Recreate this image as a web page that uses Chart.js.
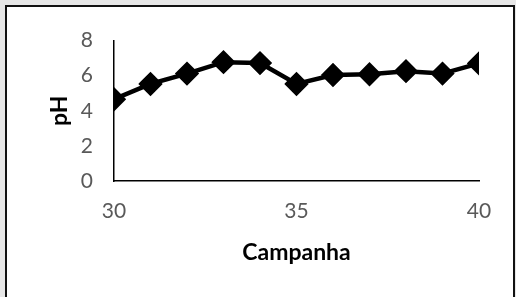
<!DOCTYPE html>
<html>
<head>
<meta charset="utf-8">
<script src="https://cdn.jsdelivr.net/npm/chart.js@4"></script>
<style>
  html, body { margin: 0; padding: 0; background: #e7e7e7; overflow: hidden; }
  #box {
    position: absolute; left: 5px; top: 5px;
    width: 506px; height: 300px;
    border: 2px solid #111; background: #fff;
  }
</style>
</head>
<body>
<div id="box"><canvas id="phChart" width="506" height="290"></canvas></div>
<script>
// campaign number vs pH
var campanha = [30, 31, 32, 33, 34, 35, 36, 37, 38, 39, 40];
var phValues = [4.66, 5.53, 6.12, 6.77, 6.72, 5.53, 6.04, 6.08, 6.26, 6.12, 6.70];
var yTicks = [0, 2, 4, 6, 8];
var xTicks = [30, 35, 40];

var points = campanha.map(function (c, i) { return { x: c, y: phValues[i] }; });

new Chart("phChart", {
    type: "line",
    data: {
        datasets: [{
            data: points,
            borderColor: "#000",
            backgroundColor: "#000",
            borderWidth: 4.5,
            pointStyle: "rectRot",
            pointRadius: 9,
            pointBackgroundColor: "#000",
            pointBorderColor: "#000",
            tension: 0
        }]
    },
    options: {
        responsive: false,
        animation: false,
        events: [],
        layout: { padding: { top: 28, right: 34, left: 0, bottom: 0 } },
        plugins: { legend: { display: false }, tooltip: { enabled: false } },
        scales: {
            x: {
                type: "linear",
                min: 30,
                max: 40,
                afterBuildTicks: function (s) { s.ticks = xTicks.map(function (v) { return { value: v }; }); },
                afterFit: function (s) { s.height = 116; },
                grid: { display: false, drawTicks: false },
                border: { color: "#000", width: 1.5 },
                ticks: { color: "#595959", padding: 18, maxRotation: 0, font: { family: "Lato", size: 21 } },
                title: {
                    display: true, text: "Campanha", color: "#000",
                    font: { family: "Lato", size: 23, weight: "bold" },
                    padding: { top: 0, bottom: 31 }
                }
            },
            y: {
                min: 0,
                max: 8,
                afterBuildTicks: function (s) { s.ticks = yTicks.map(function (v) { return { value: v }; }); },
                afterFit: function (s) { s.width = 107; },
                grid: { display: false, drawTicks: false },
                border: { color: "#000", width: 1.5 },
                ticks: { color: "#595959", padding: 21, font: { family: "Lato", size: 21 } },
                title: {
                    display: true, text: "pH", color: "#000",
                    font: { family: "Lato", size: 23, weight: "bold" },
                    padding: { top: 39, bottom: 0 }
                }
            }
        }
    }
});
</script>
</body>
</html>
